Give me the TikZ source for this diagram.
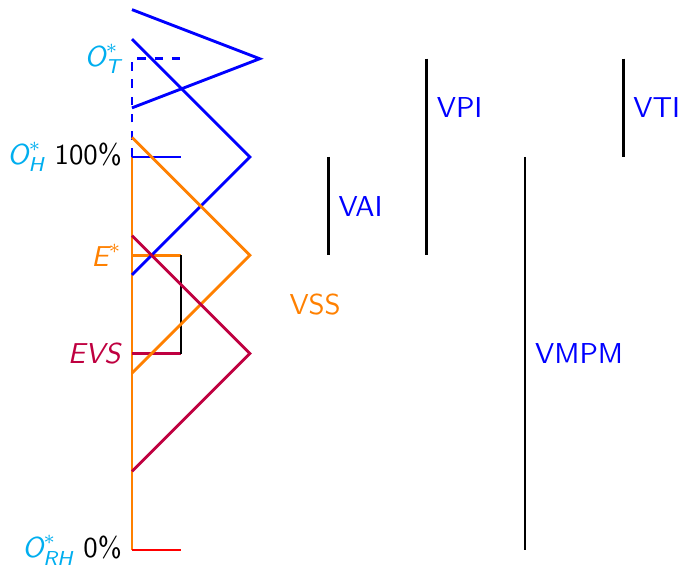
\documentclass[tikz,border=0pt]{standalone}
\usepackage{amsmath}
\usepackage{tikz}
\definecolor{labcyan}{RGB}{0,174,239}
\definecolor{zblue}{RGB}{0,0,255}
\definecolor{zorange}{RGB}{255,128,0}
\definecolor{zpurple}{RGB}{191,0,64}
\begin{document}
\begin{tikzpicture}[x=1.2cm,y=1.2cm,font=\sffamily,
  zig/.style={line width=1pt,line join=miter},
  bar/.style={line width=0.9pt,black},
  lbl/.style={anchor=west,zblue},
  leftlbl/.style={anchor=east}]
\useasboundingbox (-1.343,-0.173) rectangle (5.598,5.598);
% coordinates
\coordinate (a0) at (0,0);
\coordinate (a2) at (0,2);
\coordinate (a3) at (0,3);
\coordinate (a4) at (0,4);
\coordinate (a5) at (0,5);
\coordinate (t0) at (0.5,0);
\coordinate (t2) at (0.5,2);
\coordinate (t3) at (0.5,3);
\coordinate (t4) at (0.5,4);
\coordinate (t5) at (0.5,5);
% axis
\draw[zig,zorange] (a0) -- (a4);
\draw[zig,red] (a0) -- (t0);
\draw[zig,zblue] (a4) -- (t4);
\draw[zig,zblue,dashed] (a4) -- (a5) -- (t5);
\draw[zig,zorange] (a3) -- (t3);
\draw[zig,zpurple] (a2) -- (t2);
\draw[bar] (t3) -- (t2);
% zigzags
\draw[zig,zblue] (0,5.5) -- (1.3,5) -- (0,4.5);
\draw[zig,zblue] (0,5.2) -- (1.2,4) -- (0,2.8);
\draw[zig,zorange] (0,4.2) -- (1.2,3) -- (0,1.8);
\draw[zig,zpurple] (0,3.2) -- (1.2,2) -- (0,0.8);
% left labels
\node[leftlbl] (lT) at (a5) {\textcolor{labcyan}{$\textit{O}^*_{\textit{T}}$}};
\node[leftlbl] (lH) at (a4) {\textcolor{labcyan}{$\textit{O}^*_{\textit{H}}$} 100\%};
\node[leftlbl] (lE) at (a3) {\textcolor{zorange}{$\textit{E}^*$}};
\node[leftlbl] (lEVS) at (a2) {\textcolor{zpurple}{\textit{EVS}}};
\node[leftlbl] (lRH) at (a0) {\textcolor{labcyan}{$\textit{O}^*_{\textit{RH}}$} 0\%};
% bars
\coordinate (vai1) at (2,4); \coordinate (vai2) at (2,3);
\coordinate (vpi1) at (3,5); \coordinate (vpi2) at (3,3);
\coordinate (vmp1) at (4,4); \coordinate (vmp2) at (4,0);
\coordinate (vti1) at (5,5); \coordinate (vti2) at (5,4);
\draw[bar] (vai1) -- (vai2);
\draw[bar] (vpi1) -- (vpi2);
\draw[bar] (vmp1) -- (vmp2);
\draw[bar] (vti1) -- (vti2);
\node[lbl] (nVAI) at (2,3.5) {VAI};
\node[lbl] (nVPI) at (3,4.5) {VPI};
\node[lbl] (nVMPM) at (4,2) {VMPM};
\node[lbl] (nVTI) at (5,4.5) {VTI};
\node[lbl,zorange] (nVSS) at (1.5,2.5) {VSS};
\end{tikzpicture}
\end{document}
